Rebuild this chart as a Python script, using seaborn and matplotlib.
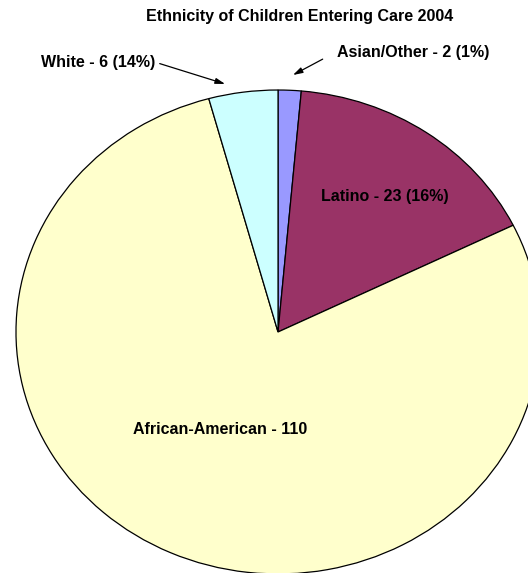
import matplotlib
matplotlib.use("Agg")
import matplotlib.pyplot as plt
import seaborn as sns

# data
groups = ['Asian/Other', 'Latino', 'African-American', 'White']
counts = [2, 23, 110, 6]
colors = ['#9999FF', '#993366', '#FFFFCC', '#CCFFFF']
labels = ['Asian/Other - 2 (1%)', 'Latino - 23 (16%)', 'African-American - 110', 'White - 6 (14%)']
title = 'Ethnicity of Children Entering Care 2004'

sns.set_theme(style='white')
plt.rcParams['font.family'] = ['Liberation Sans', 'DejaVu Sans']
plt.rcParams['text.color'] = 'black'

fig = plt.figure(figsize=(5.28, 5.73), dpi=100)
ax = fig.add_axes([0, 0, 1, 1])

ax.pie(counts, colors=colors, startangle=90, counterclock=False,
       wedgeprops={'edgecolor': 'black', 'linewidth': 0.9})

# the reference pie is slightly squashed, so let the axes stretch it
ax.set_aspect('auto')
ax.set_xlim(-1.061, 0.954)
ax.set_ylim(-0.996, 1.372)
ax.axis('off')

fig.text(300 / 528, 1 - 17 / 573, title, ha='center', va='center',
         fontsize=11.5, fontweight='bold', color='black')

# labels inside the big slices
ax.text(0.408, 0.558, labels[1], ha='center', va='center', fontsize=11.5,
        fontweight='bold', color='black')
ax.text(-0.221, -0.405, labels[2], ha='center', va='center', fontsize=11.5,
        fontweight='bold', color='black')

# labels outside with arrows
arrow = dict(arrowstyle='-|>,head_length=0.5,head_width=0.15', color='black', lw=0.9,
             shrinkA=1, shrinkB=0)
ax.annotate(labels[3], xy=(-0.202, 1.025), xytext=(-0.469, 1.112),
            ha='right', va='center', fontsize=11.5, fontweight='bold', color='black',
            arrowprops=dict(arrow, relpos=(1, 0.55)))
ax.annotate(labels[0], xy=(0.057, 1.062), xytext=(0.225, 1.153),
            ha='left', va='center', fontsize=11.5, fontweight='bold', color='black',
            arrowprops=dict(arrow, relpos=(0, 0.6), shrinkA=9))

fig.savefig('out.png', dpi=100)
